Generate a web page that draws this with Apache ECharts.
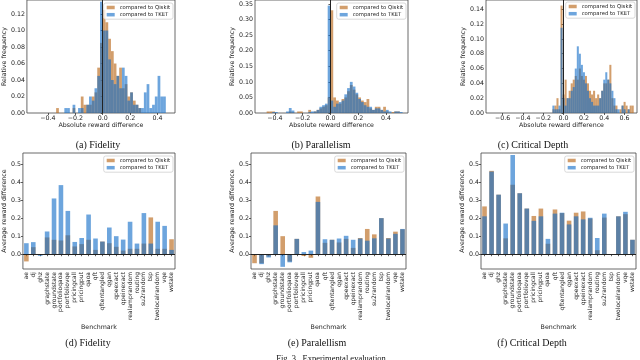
<!DOCTYPE html>
<html><head><meta charset="utf-8">
<script src="https://cdn.jsdelivr.net/npm/echarts@6/dist/echarts.min.js"></script>
<style>html,body{margin:0;padding:0;background:#fff}#c{width:640px;height:360px}</style>
</head><body><div id="c"></div>
<script>
// ---------- data ----------
const benchmarks = ['ae','dj','ghz','graphstate','groundstate','portfolioqaoa','portfoliovqe','pricingcall','pricingput','qaoa','qft','qftentangled','qgan','qpeexact','qpeinexact','realamprandom','routing','su2random','tsp','twolocalrandom','vqe','wstate'];

const fidQiskit = [-0.04,0.039,-0.003,0.093,0.08,0.076,0.105,0.043,0.056,0.08,0.024,0.07,0.061,0.041,0.02,0.03,0.03,0.059,0.204,0.03,0.03,0.083];
const fidTKET   = [0.061,0.067,-0.009,0.126,0.309,0.383,0.24,0.068,0.09,0.22,0.087,0.07,0.148,0.1,0.081,0.18,0.059,0.228,0.059,0.18,0.157,0.024];

const parQiskit = [-0.05,-0.05,-0.012,0.24,0.1,-0.04,0.085,-0.01,-0.02,0.32,0.063,0.08,0.065,0.085,0.035,0.09,0.14,0.11,0.2,0.09,0.125,0.138];
const parTKET   = [-0.002,-0.055,-0.018,0.16,-0.07,-0.045,0.085,0.012,0.02,0.29,0.083,0.08,0.087,0.102,0.08,0.087,0.075,0.088,0.2,0.087,0.113,0.14];

const cdQiskit = [0.265,0.462,0.33,0.088,0.385,0.338,0.253,0.212,0.253,0.058,0.248,0.228,0.186,0.23,0.237,0.198,0.022,0.203,0.001,0.21,0.222,0.08];
const cdTKET   = [0.21,0.458,0.33,0.17,0.55,0.338,0.253,0.185,0.21,0.085,0.225,0.23,0.165,0.21,0.193,0.202,0.09,0.225,0.0,0.21,0.235,0.08];

// histograms (bin start, bin width, relative frequency per bin)
const hFidStart = -0.34, hFidWidth = 0.02;
const hFidQiskit = [0.006,0,0,0,0,0,0.006,0,0,0.02,0.01,0.01,0.01,0.02,0.025,0.055,0.085,0.125,0.11,0.09,0.075,0.06,0.045,0.055,0.03,0.035,0.02,0.025,0.015,0.01,0.006,0,0,0,0,0,0,0,0,0];
const hFidTKET   = [0,0,0,0.006,0.006,0,0.01,0,0.006,0.006,0,0.01,0.02,0.015,0.03,0.045,0.135,0.10,0.10,0.065,0.04,0.035,0.045,0.03,0.055,0.045,0.015,0.025,0.01,0.01,0.006,0.006,0.025,0.035,0.006,0.01,0.02,0.045,0.02,0.02];

const hParStart = -0.46, hParWidth = 0.02;
const hParQiskit = [0.005,0.005,0.005,0,0,0,0,0,0.005,0.002,0,0.005,0.005,0,0,0.01,0,0.005,0.01,0.015,0.02,0.025,0.05,0.33,0.05,0.04,0.03,0.045,0.05,0.07,0.09,0.075,0.06,0.05,0.04,0.035,0.045,0.015,0.01,0.02,0.02,0.01,0.02,0.005,0,0.003,0.005,0.005,0,0];
const hParTKET   = [0,0,0.003,0.003,0,0,0,0.005,0.016,0.008,0,0,0,0,0,0.003,0.005,0.005,0.01,0.02,0.025,0.03,0.345,0.04,0.02,0.03,0.035,0.04,0.06,0.08,0.1,0.085,0.065,0.045,0.035,0.025,0.02,0.02,0.01,0.015,0.015,0.01,0.005,0.01,0.005,0,0.005,0.005,0.003,0];

const hCdStart = -0.11, hCdWidth = 0.02;
const hCdQiskit = [0.005,0.01,0.02,0.005,0.145,0.025,0.045,0.02,0.03,0.04,0.045,0.05,0.045,0.06,0.05,0.045,0.05,0.04,0.03,0.025,0.03,0.02,0.025,0.02,0.03,0.04,0.04,0.045,0.065,0.02,0.01,0.01,0,0.005,0.01,0.015,0.01,0.005,0.01,0.01];
const hCdTKET   = [0.01,0.005,0.005,0.01,0.115,0.02,0.01,0.02,0.02,0.03,0.035,0.06,0.09,0.08,0.065,0.055,0.04,0.03,0.02,0.015,0.01,0.01,0.01,0.02,0.03,0.045,0.055,0.045,0.04,0.03,0.02,0.005,0.005,0,0.01,0.005,0,0.005,0,0];

// tick values
const ticksFidX = [-0.4,-0.2,0,0.2,0.4];
const ticksFidY = [0,0.02,0.04,0.06,0.08,0.10,0.12];
const ticksParX = [-0.4,-0.2,0,0.2,0.4];
const ticksParY = [0,0.05,0.10,0.15,0.20,0.25,0.30,0.35];
const ticksCdX  = [-0.6,-0.4,-0.2,0,0.2,0.4,0.6];
const ticksCdY  = [0,0.02,0.04,0.06,0.08,0.10,0.12,0.14];
const ticksBarY = [0,0.1,0.2,0.3,0.4,0.5];

// ---------- style ----------
const SANS = 'DejaVu Sans';
const SERIF = 'Liberation Serif';
const QC = 'rgba(186,106,29,0.65)';
const TC = 'rgba(20,110,200,0.62)';
const NQ = 'compared to Qiskit', NT = 'compared to TKET';
const TXT = '#222';
function fmt(d){ return v => (v < -1e-9 ? '\u2212' : '') + Math.abs(v).toFixed(d); }

const grids = [], xAxes = [], yAxes = [], series = [], legends = [];

function baseAxis(extra){
  return Object.assign({
    axisLine:{show:false},
    axisTick:{show:true, length:2, lineStyle:{color:'#333', width:0.8}},
    splitLine:{show:false},
    nameTextStyle:{fontFamily:SANS, fontSize:6.3, color:TXT},
  }, extra);
}

function addLegend(right, top){
  legends.push({
    orient:'vertical', right:right, top:top, itemWidth:8, itemHeight:3.5, itemGap:2.2,
    padding:[2,3,2,3], borderColor:'#cfcfcf', borderWidth:0.8, borderRadius:2,
    backgroundColor:'rgba(255,255,255,0.8)', selectedMode:false,
    textStyle:{fontFamily:SANS, fontSize:5.3, color:TXT},
    data:[{name:NQ, icon:'rect', itemStyle:{color:QC}}, {name:NT, icon:'rect', itemStyle:{color:TC}}]
  });
}

function renderHist(params, api){
  const y = api.value(2);
  if (!(y > 0)) return null;
  const p0 = api.coord([api.value(0), 0]);
  const p1 = api.coord([api.value(1), y]);
  return {type:'rect', shape:{x:p0[0], y:p1[1], width:p1[0]-p0[0], height:p0[1]-p1[1]}, style:api.style()};
}
function histData(start, width, freqs){ return freqs.map((f,i)=>[start+i*width, start+(i+1)*width, f]); }

function addHist(g, xr, yr, xt, yt, ydec, start, width, q, t, lg, nameGap){
  const k = grids.length;
  grids.push(Object.assign({show:true, borderColor:'#444', borderWidth:0.8, backgroundColor:'transparent'}, g));
  xAxes.push(baseAxis({type:'value', gridIndex:k, min:xr[0], max:xr[1],
    name:'Absolute reward difference', nameLocation:'middle', nameGap:9,
    axisTick:{show:true, length:2, customValues:xt, lineStyle:{color:'#333', width:0.8}},
    axisLabel:{customValues:xt, formatter:fmt(1), fontFamily:SANS, fontSize:6.3, color:TXT, margin:2}}));
  yAxes.push(baseAxis({type:'value', gridIndex:k, min:yr[0], max:yr[1],
    name:'Relative frequency', nameLocation:'middle', nameGap:nameGap,
    axisTick:{show:true, length:2, customValues:yt, lineStyle:{color:'#333', width:0.8}},
    axisLabel:{customValues:yt, formatter:fmt(ydec), fontFamily:SANS, fontSize:6.3, color:TXT, margin:2}}));
  series.push({type:'custom', name:NQ, xAxisIndex:k, yAxisIndex:k, renderItem:renderHist, clip:true,
    encode:{x:[0,1], y:2}, itemStyle:{color:QC}, data:histData(start, width, q)});
  series.push({type:'custom', name:NT, xAxisIndex:k, yAxisIndex:k, renderItem:renderHist, clip:true,
    encode:{x:[0,1], y:2}, itemStyle:{color:TC}, data:histData(start, width, t),
    markLine:{silent:true, symbol:'none', label:{show:false}, lineStyle:{color:'#222', width:1, type:'solid'}, data:[{xAxis:0}]}});
  addLegend(lg[0], lg[1]);
}

function addBars(g, q, t, lg, nameGap){
  const k = grids.length;
  grids.push(Object.assign({show:true, borderColor:'#444', borderWidth:0.8, backgroundColor:'transparent'}, g));
  xAxes.push(baseAxis({type:'category', gridIndex:k, data:benchmarks,
    name:'Benchmark', nameLocation:'middle', nameGap:51,
    axisTick:{show:true, length:2, alignWithLabel:true, lineStyle:{color:'#333', width:0.8}},
    axisLabel:{rotate:90, interval:0, fontFamily:SANS, fontSize:6, color:TXT, margin:3}}));
  yAxes.push(baseAxis({type:'value', gridIndex:k, min:-0.082, max:0.561,
    name:'Average reward difference', nameLocation:'middle', nameGap:nameGap,
    axisTick:{show:true, length:2, customValues:ticksBarY, lineStyle:{color:'#333', width:0.8}},
    axisLabel:{customValues:ticksBarY, formatter:fmt(1), fontFamily:SANS, fontSize:6.3, color:TXT, margin:2}}));
  series.push({type:'bar', name:NQ, xAxisIndex:k, yAxisIndex:k, barWidth:4.6, barGap:'-100%', itemStyle:{color:QC}, data:q});
  series.push({type:'bar', name:NT, xAxisIndex:k, yAxisIndex:k, barWidth:4.6, barGap:'-100%', itemStyle:{color:TC}, data:t,
    markLine:{silent:true, symbol:'none', label:{show:false}, lineStyle:{color:'#222', width:1, type:'solid'}, data:[{yAxis:0}]}});
  addLegend(lg[0], lg[1]);
}

addHist({left:21, top:0, width:154, height:113}, [-0.553,0.527], [0,0.137], ticksFidX, ticksFidY, 2, hFidStart, hFidWidth, hFidQiskit, hFidTKET, [467,3], 15);
addHist({left:255, top:0, width:153, height:113}, [-0.544,0.559], [0,0.363], ticksParX, ticksParY, 2, hParStart, hParWidth, hParQiskit, hParTKET, [234,3], 15.5);
addHist({left:486, top:0, width:151, height:113}, [-0.763,0.722], [0,0.1525], ticksCdX, ticksCdY, 2, hCdStart, hCdWidth, hCdQiskit, hCdTKET, [5,2], 15.5);
addBars({left:21, top:153, width:154, height:116}, fidQiskit, fidTKET, [467,156], 14.5);
addBars({left:251, top:153, width:155, height:116}, parQiskit, parTKET, [236,156], 13.5);
addBars({left:481, top:153, width:155, height:116}, cdQiskit, cdTKET, [6,156], 13.5);

const captions = [
  ['(a) Fidelity', 98, 145], ['(b) Parallelism', 321, 145], ['(c) Critical Depth', 533, 145],
  ['(d) Fidelity', 88, 343], ['(e) Paralellism', 317, 343], ['(f) Critical Depth', 532, 343]
];
const graphic = captions.map(c => ({type:'text', x:c[1], y:c[2], silent:true,
  style:{text:c[0], font:'10px "' + SERIF + '"', fill:'#111', textAlign:'center', textVerticalAlign:'middle'}}));
graphic.push({type:'text', x:331, y:359, silent:true,
  style:{text:'Fig. 3.  Experimental evaluation', font:'8.5px "' + SERIF + '"', fill:'#111', textAlign:'center', textVerticalAlign:'middle'}});

const chart = echarts.init(document.getElementById('c'), null, {renderer:'canvas'});
chart.setOption({
  animation:false,
  backgroundColor:'#fff',
  grid:grids, xAxis:xAxes, yAxis:yAxes, series:series, legend:legends, graphic:graphic
});
</script></body></html>
